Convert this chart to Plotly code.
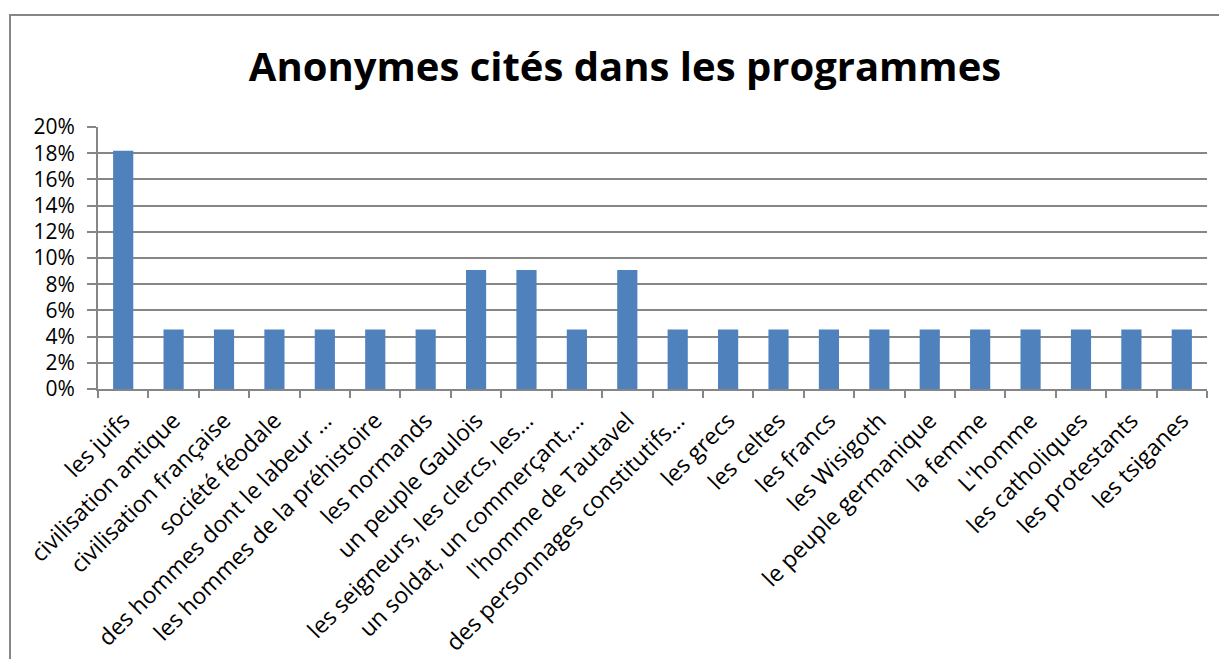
import plotly.graph_objects as go

categories = [
    "les juifs", "civilisation antique", "civilisation française", "société féodale",
    "des hommes dont le labeur …", "les hommes de la préhistoire", "les normands",
    "un peuple Gaulois", "les seigneurs, les clercs, les…", "un soldat, un commerçant,…",
    "l'homme de Tautavel", "des personnages constitutifs…", "les grecs", "les celtes",
    "les francs", "les Wisigoth", "le peuple germanique", "la femme", "L'homme",
    "les catholiques", "les protestants", "les tsiganes",
]
values = [
    0.1818, 0.0455, 0.0455, 0.0455, 0.0455, 0.0455, 0.0455, 0.0909, 0.0909, 0.0455,
    0.0909, 0.0455, 0.0455, 0.0455, 0.0455, 0.0455, 0.0455, 0.0455, 0.0455, 0.0455,
    0.0455, 0.0455,
]
y_ticks = [0, 0.02, 0.04, 0.06, 0.08, 0.10, 0.12, 0.14, 0.16, 0.18, 0.20]
y_tick_labels = ["0%", "2%", "4%", "6%", "8%", "10%", "12%", "14%", "16%", "18%", "20%"]
title_text = "Anonymes cités dans les programmes"

OFF = 8  # page body margin
W, H = 1227 - OFF, 659 - OFF
L, T = 98 - OFF, 127 - OFF
R = W - (1207 - OFF)
B = H - (389 - OFF)
pw = W - L - R
ph = H - T - B

FONT = "Open Sans"
GRID = "#868686"

fig = go.Figure(go.Bar(
    x=categories, y=values, marker=dict(color="#4F81BD", line=dict(width=0)),
    hoverinfo="x+y",
))

fig.update_layout(
    width=W, height=H,
    margin=dict(l=L, r=R, t=T, b=B, autoexpand=False),
    paper_bgcolor="white", plot_bgcolor="white",
    bargap=0.6,
    showlegend=False,
    font=dict(family=FONT, color="black"),
    title=dict(
        text="<b>" + title_text + "</b>",
        font=dict(family=FONT, size=40, color="black"),
        x=(625 - OFF) / W, xanchor="center", xref="container",
        y=1 - (67 - OFF) / H, yanchor="middle", yref="container",
    ),
    xaxis=dict(
        type="category",
        tickangle=-45,
        tickfont=dict(family=FONT, size=23, color="black"),
        showgrid=False,
        showline=True, linecolor=GRID, linewidth=2,
        ticks="outside", ticklen=7, tickwidth=2, tickcolor=GRID,
        tickson="boundaries",
        ticklabelstandoff=7,
        automargin=False,
        range=[-0.5, len(categories) - 0.5],
    ),
    yaxis=dict(
        range=[0, 0.20],
        tickvals=y_ticks, ticktext=y_tick_labels,
        tickfont=dict(family=FONT, size=21, color="black"),
        showgrid=True, gridcolor=GRID, gridwidth=2,
        showline=True, linecolor=GRID, linewidth=2,
        ticks="outside", ticklen=9, tickwidth=2, tickcolor=GRID,
        ticklabelstandoff=8,
        zeroline=False,
        automargin=False,
    ),
)

# chart-area border (left and top edges visible, extends past page)
bx0 = (10 - 98) / pw
by1 = (389 - 15) / ph
fig.add_shape(type="rect", xref="paper", yref="paper",
              x0=bx0, x1=(W + 20 - L) / pw, y0=-(B + 20) / ph, y1=by1,
              line=dict(color=GRID, width=2), fillcolor="rgba(0,0,0,0)", layer="below")

fig.write_html("out.html")
